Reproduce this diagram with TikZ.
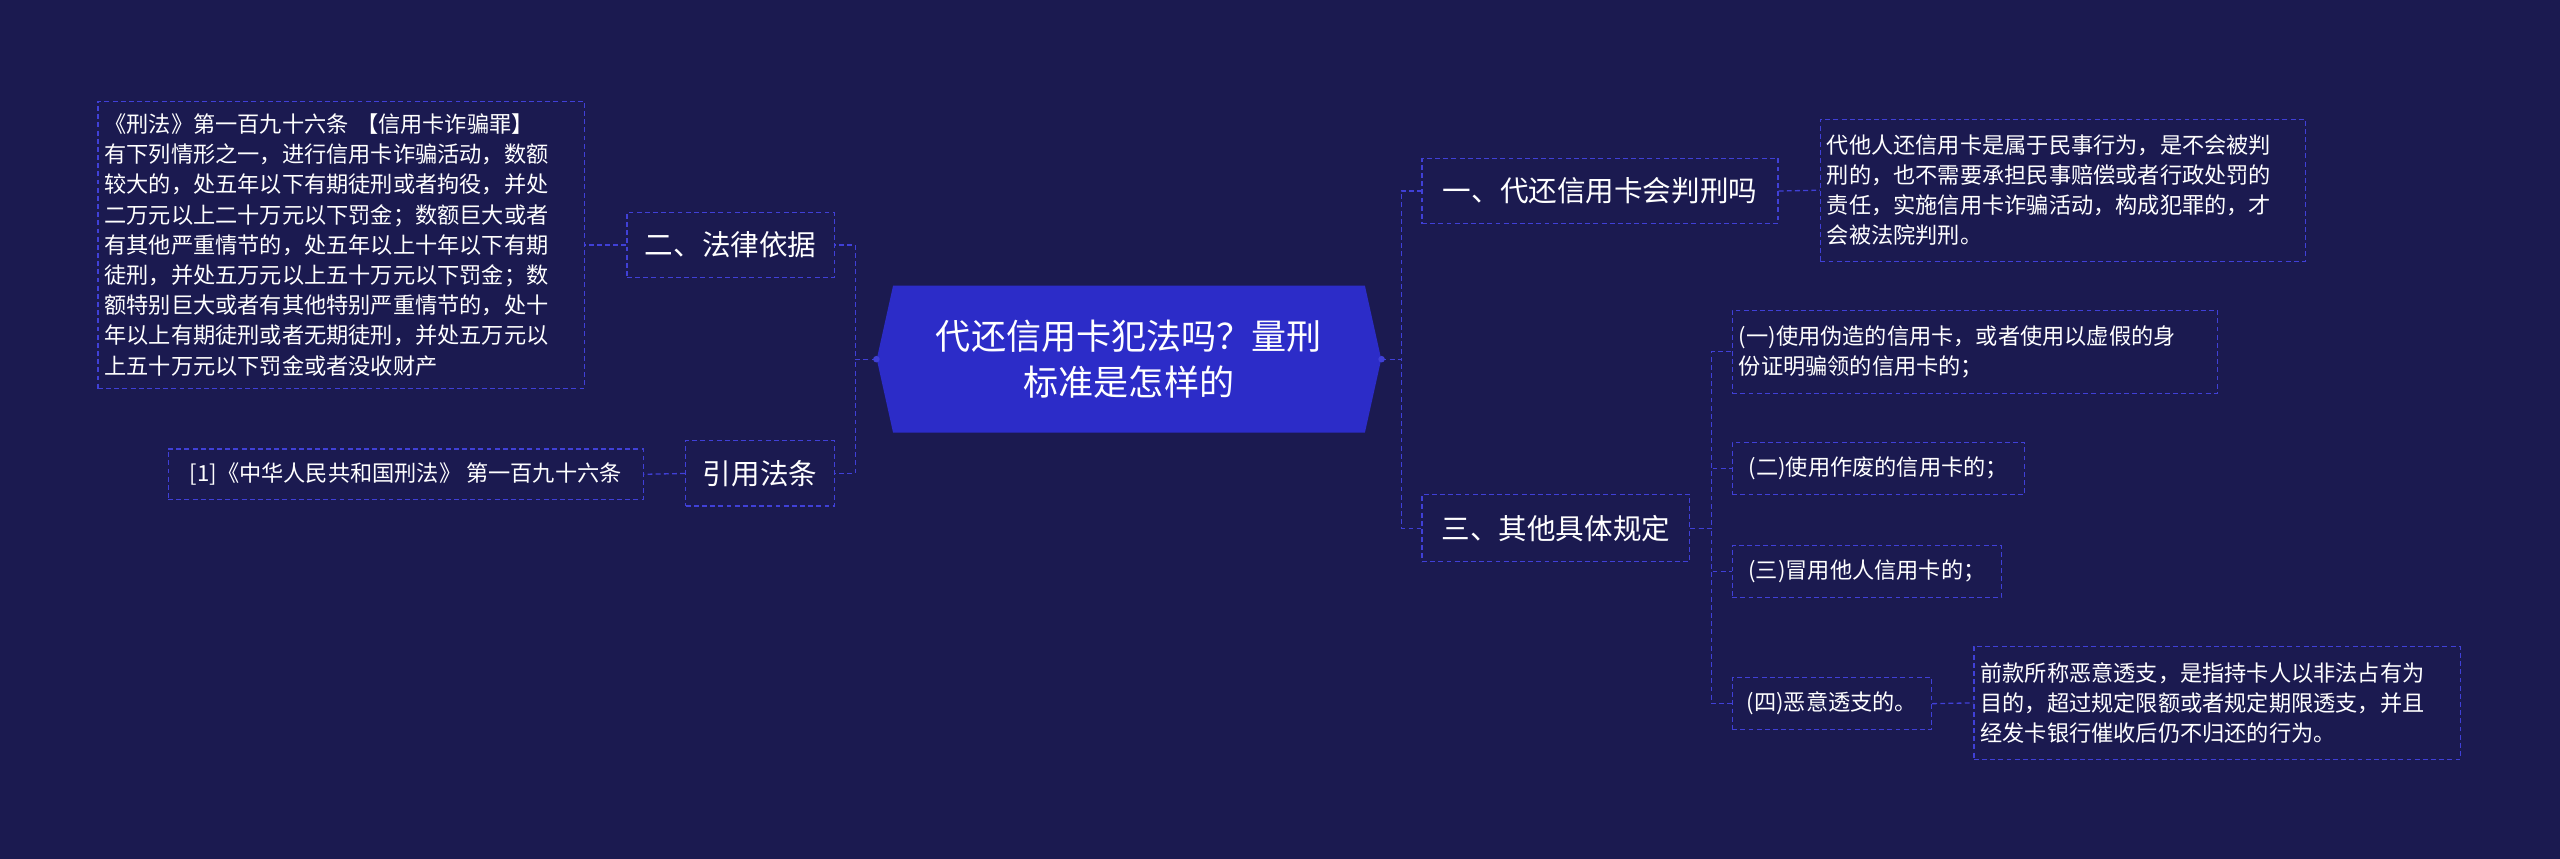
\documentclass[tikz,border=0pt]{standalone}
\usepackage{fontspec}
\setmainfont{Noto Sans CJK SC}
\usetikzlibrary{backgrounds}
\definecolor{bgc}{RGB}{27,26,80}
\definecolor{cfill}{RGB}{44,44,200}
\definecolor{bline}{RGB}{64,64,215}
\tikzset{
  box/.style={draw=bline, dashed, dash pattern=on 3pt off 2pt, line width=0.8pt, text=white, inner sep=4pt, align=left, anchor=center},
  lvl/.style={box, font=\fontsize{17.5}{20}\selectfont},
  leaf/.style={box, font=\fontsize{13.6}{18.5}\selectfont},
  conn/.style={draw=bline, dashed, dash pattern=on 3pt off 2pt, line width=0.8pt},
}
\begin{document}
\begin{tikzpicture}[x=1pt,y=-1pt]
\fill[bgc] (0,0) rectangle (1568,526);
\useasboundingbox (0,0) rectangle (1568,526);
% center
\fill[cfill] (537,220) -- (547,175) -- (836,175) -- (846,220) -- (836,265) -- (547,265) -- cycle;
\node[text=white, align=center, font=\fontsize{21.5}{28}\selectfont, minimum width=309, minimum height=90] (c) at (691.5,220) {代还信用卡犯法吗？量刑\\标准是怎样的};
\fill[bline] (c.west) circle (2);
\fill[bline] (c.east) circle (2);
% left
\node[lvl, minimum width=127, minimum height=40] (law) at (447.5,150) {二、法律依据};
\node[leaf, text width=290, minimum height=176] (lawt) at (209,150) {《刑法》第一百九十六条 【信用卡诈骗罪】\\有下列情形之一，进行信用卡诈骗活动，数额\\较大的，处五年以下有期徒刑或者拘役，并处\\二万元以上二十万元以下罚金；数额巨大或者\\有其他严重情节的，处五年以上十年以下有期\\徒刑，并处五万元以上五十万元以下罚金；数\\额特别巨大或者有其他特别严重情节的，处十\\年以上有期徒刑或者无期徒刑，并处五万元以\\上五十万元以下罚金或者没收财产};
\node[lvl, minimum width=91, minimum height=40] (ref) at (465.5,290) {引用法条};
\node[leaf, minimum width=291, minimum height=31] (reft) at (248.5,290.5) {[1]《中华人民共和国刑法》 第一百九十六条};
% right
\node[lvl, minimum width=218, minimum height=40] (q1) at (980,117) {一、代还信用卡会判刑吗};
\node[leaf, text width=289, minimum height=87] (q1t) at (1263.5,116.5) {代他人还信用卡是属于民事行为，是不会被判\\刑的，也不需要承担民事赔偿或者行政处罚的\\责任，实施信用卡诈骗活动，构成犯罪的，才\\会被法院判刑。};
\node[lvl, minimum width=164, minimum height=41] (q3) at (953,323.5) {三、其他具体规定};
\node[leaf, text width=289, minimum height=51] (a1) at (1209.5,215.5) {(一)使用伪造的信用卡，或者使用以虚假的身\\份证明骗领的信用卡的；};
\node[leaf, minimum width=179, minimum height=32] (a2) at (1150.5,287) {(二)使用作废的信用卡的；};
\node[leaf, minimum width=165, minimum height=32] (a3) at (1143.5,350) {(三)冒用他人信用卡的；};
\node[leaf, minimum width=122, minimum height=32] (a4) at (1122,431) {(四)恶意透支的。};
\node[leaf, text width=290, minimum height=69] (a4t) at (1358,430.5) {前款所称恶意透支，是指持卡人以非法占有为\\目的，超过规定限额或者规定期限透支，并且\\经发卡银行催收后仍不归还的行为。};
% connectors
\draw[conn] (c.west) -- ++(-13,0) |- (law.east);
\draw[conn] (c.west) -- ++(-13,0) |- (ref.east);
\draw[conn] (law.west) -- (lawt.east);
\draw[conn] (ref.west) -- (reft.east);
\draw[conn] (c.east) -- ++(12,0) |- (q1.west);
\draw[conn] (c.east) -- ++(12,0) |- (q3.west);
\draw[conn] (q1.east) -- (q1t.west);
\draw[conn] (q3.east) -- ++(13,0) |- (a1.west);
\draw[conn] (q3.east) -- ++(13,0) |- (a2.west);
\draw[conn] (q3.east) -- ++(13,0) |- (a3.west);
\draw[conn] (q3.east) -- ++(13,0) |- (a4.west);
\draw[conn] (a4.east) -- (a4t.west);
\end{tikzpicture}
\end{document}
